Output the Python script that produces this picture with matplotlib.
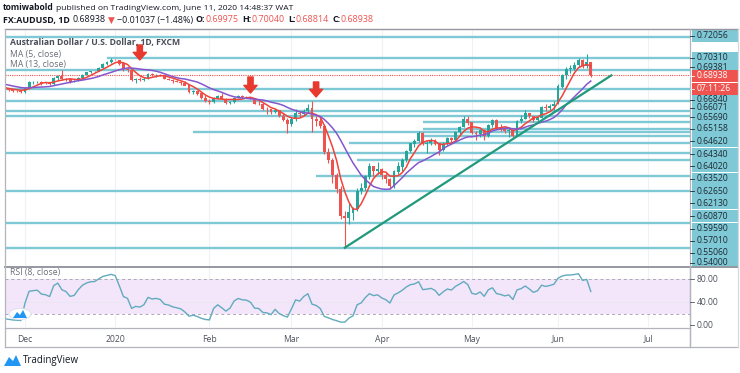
import os
os.environ.setdefault("MPLBACKEND", "Agg")
import numpy as np
import pandas as pd
import matplotlib.pyplot as plt
from matplotlib.lines import Line2D
from matplotlib.patches import Rectangle, Circle, Polygon
from matplotlib.transforms import blended_transform_factory

plt.rcParams["font.family"] = ["Open Sans", "DejaVu Sans"]

# ---- data (AUDUSD daily, FXCM) ------------------------------------------
first_day = "2019-11-06"
opens = [
    .6890, .6895, .6875, .6860, .6853, .6845, .6835, .6815, .6817, .6820, .6810, .6805, .6792,
    .6781, .6789, .6781, .6771, .6768,
    # Dec
    .6763, .6795, .6838, .6841, .6843, .6832, .6830, .6825, .6870, .6888, .6868, .6862, .6845,
    .6849, .6874, .6900, .6918, .6928, .6930, .6955, .6985, .7002,
    # Jan
    .7021, .7018, .6990, .6945, .6935, .6855, .6865, .6858, .6868, .6905, .6895, .6898, .6892,
    .6865, .6860, .6848, .6842, .6835, .6812, .6763, .6766, .6748, .6715,
    # Feb
    .6688, .6677, .6715, .6730, .6705, .6670, .6682, .6715, .6728, .6720, .6718, .6707, .6666,
    .6663, .6625, .6620, .6598, .6615, .6568, .6535,
    # Mar
    .6505, .6540, .6590, .6580, .6610, .6630, .6540, .6525, .6485, .6280, .6210, .6090, .5980,
    .5760, .5745, .5790, .5815, .5960, .5990, .6080, .6160, .6125,
    # Apr
    .6140, .6090, .6060, .6000, .6120, .6160, .6210, .6285, .6345, .6365, .6430, .6340, .6350,
    .6365, .6345, .6290, .6340, .6385, .6375, .6435, .6480, .6540,
    # May
    .6515, .6430, .6420, .6450, .6405, .6495, .6530, .6470, .6460, .6445, .6455, .6410, .6525,
    .6545, .6590, .6565, .6535, .6555, .6640, .6630, .6645,
    # Jun
    .6665, .6805, .6895, .6945, .6950, .6975, .7015, .6970, .69975,
]
highs = [
    .6905, .6930, .6880, .6868, .6862, .6850, .6840, .6822, .6830, .6825, .6815, .6810, .6800,
    .6795, .6792, .6785, .6778, .6775,
    .6800, .6845, .6850, .6852, .6850, .6840, .6838, .6880, .6895, .6938, .6875, .6868, .6858,
    .6880, .6905, .6925, .6932, .6932, .6958, .6990, .7008, .7032,
    .7025, .7020, .6996, .6960, .6940, .6870, .6880, .6878, .6910, .6912, .6905, .6903, .6896,
    .6872, .6865, .6857, .6850, .6845, .6815, .6775, .6775, .6755, .6732,
    .6705, .6722, .6740, .6752, .6710, .6690, .6722, .6740, .6735, .6730, .6722, .6712, .6690,
    .6670, .6640, .6625, .6625, .6618, .6590, .6550,
    .6560, .6620, .6605, .6620, .6660, .6685, .6570, .6550, .6495, .6310, .6230, .6110, .6005,
    .5800, .5870, .5830, .5990, .6030, .6090, .6190, .6165, .6200,
    .6150, .6110, .6070, .6130, .6200, .6230, .6290, .6350, .6385, .6445, .6435, .6365, .6390,
    .6385, .6350, .6355, .6395, .6400, .6445, .6490, .6570, .6570,
    .6520, .6445, .6465, .6460, .6500, .6540, .6540, .6505, .6485, .6475, .6460, .6535, .6575,
    .6615, .6595, .6570, .6560, .6650, .6665, .6660, .6685,
    .6825, .6905, .6960, .6975, .7000, .7030, .7025, .7064, .70040,
]
lows = [
    .6880, .6870, .6855, .6845, .6838, .6820, .6808, .6805, .6810, .6800, .6790, .6775, .6770,
    .6775, .6770, .6758, .6760, .6754,
    .6755, .6790, .6825, .6830, .6818, .6822, .6815, .6820, .6858, .6855, .6852, .6836, .6838,
    .6845, .6865, .6895, .6912, .6924, .6926, .6950, .6978, .6995,
    .7015, .6980, .6930, .6920, .6845, .6835, .6848, .6850, .6862, .6888, .6880, .6885, .6862,
    .6855, .6835, .6838, .6820, .6815, .6755, .6745, .6740, .6705, .6682,
    .6660, .6670, .6705, .6700, .6662, .6662, .6675, .6708, .6710, .6710, .6702, .6660, .6655,
    .6618, .6586, .6585, .6590, .6560, .6525, .6433,
    .6490, .6525, .6560, .6575, .6595, .6434, .6490, .6470, .6260, .6190, .6030, .5950, .5740,
    .5506, .5700, .5730, .5800, .5940, .5970, .6060, .6080, .6100,
    .6060, .6030, .5980, .5990, .6100, .6120, .6200, .6280, .6320, .6355, .6330, .6265, .6330,
    .6330, .6250, .6285, .6330, .6355, .6370, .6420, .6475, .6495,
    .6420, .6375, .6400, .6370, .6395, .6475, .6460, .6450, .6430, .6400, .6400, .6405, .6510,
    .6540, .6550, .6520, .6525, .6550, .6605, .6615, .6615,
    .6660, .6795, .6865, .6915, .6935, .6965, .6955, .6950, .68814,
]
closes = [
    .6895, .6875, .6860, .6853, .6845, .6835, .6815, .6817, .6820, .6810, .6805, .6792, .6781,
    .6789, .6781, .6771, .6768, .6763,
    .6795, .6838, .6841, .6843, .6832, .6830, .6825, .6870, .6888, .6868, .6862, .6845, .6849,
    .6874, .6900, .6918, .6928, .6930, .6955, .6985, .7002, .7021,
    .7018, .6990, .6945, .6935, .6855, .6865, .6858, .6868, .6905, .6895, .6898, .6892, .6865,
    .6860, .6848, .6842, .6835, .6812, .6763, .6766, .6748, .6715, .6688,
    .6677, .6715, .6730, .6705, .6670, .6682, .6715, .6728, .6720, .6718, .6707, .6666, .6663,
    .6625, .6620, .6598, .6615, .6568, .6535, .6505,
    .6540, .6590, .6580, .6610, .6630, .6540, .6525, .6485, .6280, .6210, .6090, .5980, .5760,
    .5745, .5790, .5815, .5960, .5990, .6080, .6160, .6125, .6140,
    .6090, .6060, .6000, .6120, .6160, .6210, .6285, .6345, .6365, .6430, .6340, .6350, .6365,
    .6345, .6290, .6340, .6385, .6375, .6435, .6480, .6540, .6515,
    .6430, .6420, .6450, .6405, .6495, .6530, .6470, .6460, .6445, .6455, .6410, .6525, .6545,
    .6590, .6565, .6535, .6555, .6640, .6630, .6645, .6665,
    .6805, .6895, .6945, .6950, .6975, .7015, .6970, .6998, .68938,
]

# drawn levels: price, first day of the line (None = whole width)
level_prices = [0.72056, 0.70310, 0.69381, 0.67819, 0.66840, 0.66071, 0.65690, 0.65158,
                0.64620, 0.64340, 0.64020, 0.63520, 0.62650, 0.62130, 0.60870, 0.59590,
                0.57010, 0.55060]
level_starts = [None, "2019-12-30", None, None, None, None, None, "2020-04-15",
                "2020-04-15", "2020-01-28", "2020-04-15", "2020-03-20", None, "2020-03-24",
                "2020-03-10", None, None, None]

trend_days = ["2020-03-19", "2020-06-18"]
trend_prices = [0.55060, 0.68938]

arrow_days = ["2020-01-09", "2020-02-17", "2020-03-10"]
arrow_tops = [0.7139, 0.6881, 0.6841]
arrow_tips = [0.7018, 0.6752, 0.6720]

month_days = ["2019-12-02", "2020-01-01", "2020-02-03", "2020-03-02", "2020-04-01",
              "2020-05-01", "2020-06-01", "2020-07-01"]
month_labels = ["Dec", "2020", "Feb", "Mar", "Apr", "May", "Jun", "Jul"]

# price scale labels ("" = label hidden under the countdown box)
axis_labels = ["0.72056", "0.70310", "0.69381", "", "0.66840", "0.66071", "0.65690",
               "0.65158", "0.64620", "0.64340", "0.64020", "0.63520", "0.62650", "0.62130",
               "0.60870", "0.59590", "0.57010", "0.55060", "0.54000"]
last_price = "0.68938"
countdown = "07:11:26"
rsi_ticks = [80, 40, 0]

# ---- derived -------------------------------------------------------------
cal = pd.bdate_range(first_day, "2020-07-31")
pos_of = {d.strftime("%Y-%m-%d"): i for i, d in enumerate(cal)}
n = len(closes)
pos = np.arange(n)
o, h, l, c = map(np.asarray, (opens, highs, lows, closes))
cs = pd.Series(c)
ma5 = cs.rolling(5).mean()
ma13 = cs.rolling(13).mean()
d = cs.diff()
up = d.clip(lower=0).ewm(alpha=1 / 8, adjust=False).mean()
dn = (-d).clip(lower=0).ewm(alpha=1 / 8, adjust=False).mean()
rsi = 100 - 100 / (1 + up / dn)

# ---- figure --------------------------------------------------------------
W, H = 740, 373
fig = plt.figure(figsize=(W / 100, H / 100), dpi=100)
fig.patch.set_facecolor("white")


def fxy(x, y):
    return x / W, 1 - y / H


GREEN, RED = "#26a69a", "#ef5350"
LEVEL = "#7fc8d6"
TXT = "#131722"

ax = fig.add_axes([5 / W, 1 - 266 / H, 685 / W, 237 / H])
rx = fig.add_axes([5 / W, 1 - 327 / H, 685 / W, 59 / H], sharex=ax)
px_per_bar = 4.1
x0 = pos_of["2019-12-02"] - 20 / px_per_bar
x1 = x0 + 685 / px_per_bar
ax.set_xlim(x0, x1)
ax.set_ylim(0.53586, 0.72676)
rx.set_ylim(-3, 100)
for a in (ax, rx):
    a.set_facecolor("white")
    for s in a.spines.values():
        s.set_visible(False)
    a.tick_params(left=False, bottom=False, labelleft=False, labelbottom=False)

mpos = [pos_of[m] for m in month_days]
for a in (ax, rx):
    for mp in mpos:
        a.axvline(mp, color="#eef1f5", lw=0.8, zorder=0)

# levels
for p, s in zip(level_prices, level_starts):
    xs = pos_of[s] if s else x0
    ax.hlines(p, xs, x1, color=LEVEL, lw=1.7, zorder=1)
ax.axhline(float(last_price), color=RED, lw=0.8, ls=(0, (1, 1)), zorder=1)

# candles
col = np.where(c >= o, GREEN, RED)
ax.vlines(pos, l, h, color=col, lw=0.8, zorder=3)
ax.bar(pos, np.abs(c - o) + 0.00015, bottom=np.minimum(o, c) - 0.000075, width=0.7,
       color=col, lw=0, zorder=4)
ax.plot(pos, ma5, color="#f0433a", lw=1.1, zorder=5)
ax.plot(pos, ma13, color="#8556cc", lw=1.1, zorder=5)

ax.plot([pos_of[t] for t in trend_days], trend_prices, color="#21997a", lw=1.6, zorder=6)

for dday, top, tip in zip(arrow_days, arrow_tops, arrow_tips):
    ax.annotate("", xy=(pos_of[dday], tip), xytext=(pos_of[dday], top),
                arrowprops=dict(arrowstyle="simple,head_length=0.55,head_width=0.95,tail_width=0.38",
                                color="#e8392f", shrinkA=0, shrinkB=0, mutation_scale=10),
                zorder=7)

# RSI pane
rx.axhspan(20, 80, color="#f3e6fb", zorder=0, lw=0)
for lv in (80, 20):
    rx.axhline(lv, color="#a9a9b3", lw=0.7, ls=(0, (3, 3)), zorder=1)
rx.axhline(40, color="#e9e6f2", lw=0.7, zorder=1)
rx.plot(pos, rsi, color="#62aabd", lw=1.0, zorder=3)

# ---- frames --------------------------------------------------------------
def hline(y, xa, xb, color="#b2b5be", lw=0.9):
    fig.add_artist(Line2D([xa / W, xb / W], [1 - y / H, 1 - y / H], color=color, lw=lw))


def vline(x, ya, yb, color="#b2b5be", lw=0.9):
    fig.add_artist(Line2D([x / W, x / W], [1 - ya / H, 1 - yb / H], color=color, lw=lw))


hline(29, 5, 738, "#9598a1", 1.0)
hline(267, 5, 738, "#9598a1", 1.4)
hline(327.5, 5, 690)
hline(347, 5, 738)
vline(5, 29, 347)
vline(690, 29, 347)
vline(738, 29, 347, "#d6d8de")

# ---- price axis labels -----------------------------------------------------
label_y = [36, 58, 67, 89, 100, 108, 117, 128.5, 141, 154, 166, 178.7, 191, 203.3, 216,
           228.7, 240.7, 252.7, 262.5]


def price_box(y, text, face, fg):
    fig.add_artist(Rectangle(fxy(692, y + 6), 46 / W, 12 / H, transform=fig.transFigure,
                             facecolor=face, edgecolor="none"))
    fig.add_artist(Line2D([690 / W, 694 / W], [1 - y / H] * 2, color=fg, lw=0.6))
    if text:
        fig.text(*fxy(697, y), text, fontsize=6.2, color=fg, va="center", ha="left")


for y, t in zip(label_y, axis_labels):
    price_box(y, t, LEVEL, "#1e2a33")
price_box(76, last_price, RED, "white")
price_box(88.5, countdown, RED, "white")
fig.add_artist(Rectangle(fxy(690.5, 347), 47 / W, 79 / H, transform=fig.transFigure,
                         facecolor="white", edgecolor="none"))
vline(690, 266, 347)

# RSI axis
bt = blended_transform_factory(fig.transFigure, rx.transData)
for v in rsi_ticks:
    fig.text(697 / W, v, f"{v:.2f}", transform=bt, fontsize=6.2, color="#50535e",
             va="center", ha="left")
    fig.add_artist(Line2D([690 / W, 694 / W], [v, v], transform=bt, color="#50535e", lw=0.6))

# date axis
bx = blended_transform_factory(ax.transData, fig.transFigure)
for mp, lab in zip(mpos, month_labels):
    fig.text(mp, 1 - 339 / H, lab, transform=bx, fontsize=6.2, color="#50535e",
             ha="center", va="center")

# ---- texts -----------------------------------------------------------------
renderer = fig.canvas.get_renderer()


def run_text(x, y, parts, size):
    for s, weight, color, gap in parts:
        t = fig.text(*fxy(x, y), s, fontsize=size, fontweight=weight, color=color,
                     va="center", ha="left")
        x += t.get_window_extent(renderer).width + gap


run_text(3, 8, [("tomiwabold", "bold", TXT, 2.5),
                ("published on TradingView.com, June 11, 2020 14:48:37 WAT", "normal", TXT, 0)],
         6.1)
run_text(3, 20, [("FX:AUDUSD, 1D", "bold", TXT, 3), ("0.68938", "normal", TXT, 2),
                 ("\u25bc", "normal", RED, 2), ("\u22120.01037 (\u22121.48%)", "normal", TXT, 3),
                 ("O:", "bold", TXT, 0.5), ("0.69975", "normal", RED, 3),
                 ("H:", "bold", TXT, 0.5), ("0.70040", "normal", RED, 3),
                 ("L:", "bold", TXT, 0.5), ("0.68814", "normal", RED, 3),
                 ("C:", "bold", TXT, 0.5), ("0.68938", "normal", RED, 0)], 6.4)

fig.text(*fxy(10, 43), "Australian Dollar / U.S. Dollar, 1D, FXCM", fontsize=6.2,
         fontweight="bold", color="#4a4e59", va="center")
fig.text(*fxy(10, 54), "MA (5, close)", fontsize=6.2, color="#6a6d78", va="center")
fig.text(*fxy(10, 65), "MA (13, close)", fontsize=6.2, color="#6a6d78", va="center")
fig.text(*fxy(10, 273), "RSI (8, close)", fontsize=6.2, color="#6a6d78", va="center")

# logo bubble in RSI pane
fig.add_artist(Circle(fxy(20, 314), 11 / W, transform=fig.transFigure,
                      facecolor="white", edgecolor="#e0e3eb", lw=0.8, zorder=10))
icon = [(13, 318), (17, 312), (20, 315), (23, 310), (27, 318)]
fig.add_artist(Polygon([fxy(*p) for p in icon], closed=True, transform=fig.transFigure,
                       facecolor="#2196f3", edgecolor="none", zorder=11))

# footer logo
icon2 = [(4, 366), (9, 357), (13, 361), (16, 355), (21, 366)]
fig.add_artist(Polygon([fxy(*p) for p in icon2], closed=True, transform=fig.transFigure,
                       facecolor="#2196f3", edgecolor="none"))
fig.text(*fxy(23, 360.5), "TradingView", fontsize=7, color=TXT, va="center")

fig.savefig("out.png", dpi=100)
